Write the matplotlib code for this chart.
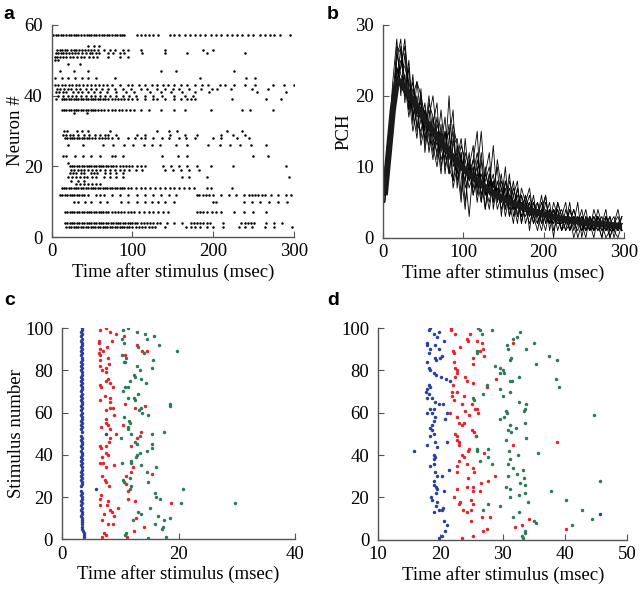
import matplotlib
matplotlib.use('Agg')
import matplotlib.pyplot as plt
import numpy as np

plt.rcParams['font.family'] = ['Liberation Serif', 'DejaVu Serif']
plt.rcParams['font.size'] = 13.5

# ---- panel a: spike raster, neuron -> spike times (msec)
raster_a = {
    57: [2, 5, 8, 11, 14, 17, 21, 24, 27, 30, 33, 36, 40, 43, 46, 49, 52, 55, 58, 62, 65, 68, 71, 74, 78, 81,
         84, 87, 90, 105, 110, 115, 120, 126, 132, 146, 152, 158, 165, 171, 178, 184, 190, 197, 204, 210, 217,
         224, 230, 236, 243, 250, 258, 264, 270, 276, 283, 295],
    54: [45, 52, 58],
    53: [7, 10, 13, 16, 19, 24, 27, 30, 34, 37, 41, 45, 48, 52, 57, 65, 72, 78, 88, 95, 110, 140, 188, 200],
    52: [5, 8, 11, 14, 18, 21, 25, 29, 33, 38, 42, 47, 50, 55, 58, 70, 76, 85, 90, 112, 140, 168, 192, 240],
    51: [4, 7, 10, 14, 18, 22, 26, 31, 36, 40, 46, 51, 56, 70, 85, 95],
    50: [4, 8],
    49: [20, 35],
    47: [10, 27, 45, 135, 154, 226],
    45: [4, 12, 20, 29, 37, 45, 55, 78, 184, 241, 252],
    43: [4, 8, 12, 16, 21, 25, 30, 34, 39, 44, 49, 54, 59, 63, 68, 74, 85, 94, 100, 108, 116, 124, 130, 138,
         144, 152, 160, 168, 178, 186, 194, 208, 215, 226, 240, 252, 274, 288, 300],
    42: [6, 10, 15, 20, 24, 30, 35, 42, 48, 55, 62, 70, 78, 88, 98, 110, 118, 130, 140, 150, 158, 170, 185,
         198, 205, 222, 248, 268],
    41: [5, 9, 14, 18, 26, 32, 38, 45, 52, 60, 68, 80, 92, 102, 122, 135, 148, 162, 178, 195, 255, 290],
    40: [8, 14, 20, 25, 30, 36, 42, 48, 54, 60, 66, 72, 80, 88, 96, 104, 115, 125, 136, 152, 165, 175],
    39: [5, 12, 15, 18, 21, 24, 27, 30, 33, 36, 39, 42, 45, 48, 51, 54, 57, 60, 63, 66, 70, 74, 78, 82, 86,
         90, 95, 100, 105, 115, 125, 130, 140, 152, 160, 168, 172, 178, 224, 265, 284],
    36: [12, 15, 18, 21, 24, 27, 30, 33, 36, 39, 42, 45, 48, 51, 54, 57, 61, 65, 70, 74, 78, 83, 87, 92, 97,
         102, 110, 120, 135, 151, 165, 197, 236, 246, 274],
    35: [28, 44],
    30: [15, 19, 31, 37, 45, 72, 130, 145, 155, 217, 236],
    29: [14, 17, 22, 26, 33, 40, 46, 54, 60, 66, 70, 80, 105, 115, 147, 165, 180, 210, 225, 240],
    28: [16, 19, 22, 25, 28, 31, 34, 37, 40, 43, 46, 50, 54, 58, 62, 66, 70, 75, 82, 95, 103, 111, 115, 125,
         136, 145, 158, 166, 178, 200, 210, 230, 244],
    26: [20, 39, 64, 76, 89, 101, 114, 124, 134, 154, 167, 194, 208, 221, 233, 247, 265],
    23: [14, 18, 29, 39, 49, 60, 74, 78, 88, 137, 156, 167, 250, 268],
    21: [20],
    20: [22, 25, 28, 31, 34, 37, 40, 43, 46, 49, 52, 55, 58, 61, 64, 67, 70, 73, 76, 80, 84, 88, 92, 96, 100,
         105, 110, 115, 138, 148, 158, 168, 180, 197, 225, 290],
    19: [24, 28, 32, 36, 40, 45, 50, 55, 60, 66, 72, 78, 84, 90, 96, 104, 112, 140, 150, 160, 170, 182],
    18: [22, 26, 30, 36, 40, 48, 52, 56, 66, 72, 80, 88],
    17: [20, 25, 30, 35, 40, 44, 50, 55, 65, 72, 80, 88, 162, 170, 193, 294],
    16: [24, 32, 40],
    15: [30, 35, 40, 45, 50, 55, 60],
    14: [12, 15, 18, 21, 24, 27, 30, 33, 36, 39, 42, 45, 48, 51, 54, 57, 60, 63, 66, 69, 72, 75, 78, 81, 84,
         87, 90, 94, 98, 104, 110, 116, 122, 128, 134, 140, 146, 152, 158, 164, 170, 176, 193, 197, 224],
    12: [10, 13, 16, 19, 22, 25, 28, 31, 34, 37, 40, 45, 55, 60, 65, 75, 85, 95, 105, 115, 125, 135, 145, 154,
         180, 183, 187, 191, 195, 200, 210, 220, 228, 238, 244, 248, 252, 256, 260, 264, 272, 280, 290, 297],
    10: [27, 33, 41, 49, 60, 68, 86, 94, 105, 115, 124, 132, 140, 152, 200, 204, 238, 248, 258, 269, 281, 292],
    7: [16, 19, 22, 25, 28, 31, 34, 37, 40, 43, 46, 49, 52, 55, 58, 61, 64, 67, 70, 74, 78, 82, 86, 90, 94,
        98, 102, 108, 114, 120, 126, 132, 138, 144, 180, 184, 188, 192, 198, 204, 210, 226, 238, 249, 265],
    4: [16, 19, 22, 25, 28, 31, 34, 37, 40, 43, 46, 49, 52, 55, 58, 61, 64, 67, 70, 73, 76, 79, 82, 85, 88,
        91, 94, 97, 100, 103, 106, 110, 114, 118, 122, 126, 130, 134, 143, 152, 162, 172, 176, 180, 184, 188,
        192, 196, 212, 235, 239, 243, 247, 251, 265, 275, 285],
    3: [18, 21, 24, 27, 30, 33, 36, 39, 42, 45, 48, 51, 54, 57, 60, 63, 66, 69, 72, 75, 78, 81, 84, 87, 90,
        93, 96, 100, 104, 108, 112, 116, 120, 124, 128, 140, 166, 172, 178, 184, 192, 200, 212, 232, 240, 248,
        264, 276, 298],
}

# ---- panel b: PCH, 5 msec bins
bin_centres = np.arange(2.5, 300, 5)
pch_mean = [6, 12, 18, 22, 22, 21, 20.2, 19.4, 18.5, 17.5, 16.6, 15.8, 15, 14.2, 13.4, 12.7, 12, 11.3, 10.7,
            10.1, 9.5, 9, 8.5, 8, 7.6, 7.1, 6.7, 6.3, 6, 5.7, 5.4, 5.1, 4.8, 4.6, 4.3, 4.1, 3.9, 3.7, 3.5, 3.4,
            3.2, 3.1, 2.9, 2.8, 2.7, 2.6, 2.5, 2.4, 2.3, 2.2, 2.1, 2.05, 2.0, 1.95, 1.9, 1.85, 1.8, 1.75, 1.7, 1.65]
pch_trials = [
    [5, 14, 22, 28, 20, 26, 18, 23, 15, 21, 13, 19, 17, 11, 16, 9, 14, 18, 7, 12, 5, 10, 13, 6, 11, 4, 9, 7, 10, 3,
     8, 5, 2, 7, 4, 6, 1, 5, 3, 6, 2, 4, 0, 5, 3, 1, 4, 2, 5, 0, 3, 1, 4, 2, 0, 3, 1, 2, 4, 1],
    [7, 10, 17, 25, 28, 19, 24, 16, 22, 20, 12, 17, 20, 14, 9, 15, 11, 16, 13, 6, 14, 8, 11, 15, 5, 9, 12, 4, 8, 5,
     10, 3, 6, 8, 2, 5, 7, 3, 1, 4, 6, 2, 5, 3, 1, 4, 2, 3, 0, 2, 4, 1, 3, 2, 0, 3, 2, 1, 2, 3],
    [6, 13, 19, 21, 27, 22, 17, 21, 19, 14, 18, 12, 16, 19, 10, 13, 15, 8, 11, 14, 9, 3, 10, 7, 12, 6, 9, 5, 11, 7,
     4, 8, 6, 3, 7, 5, 3, 6, 2, 4, 3, 5, 1, 3, 4, 2, 5, 1, 3, 2, 0, 3, 1, 4, 2, 1, 3, 0, 2, 2],
    [8, 15, 16, 23, 24, 28, 21, 18, 14, 20, 17, 15, 11, 16, 14, 11, 20, 10, 12, 9, 4, 11, 8, 10, 6, 9, 7, 13, 5, 8,
     6, 4, 7, 5, 3, 6, 4, 2, 5, 3, 6, 1, 4, 2, 3, 5, 1, 3, 2, 4, 1, 2, 3, 1, 2, 4, 0, 2, 3, 1],
    [5, 11, 20, 24, 22, 20, 25, 17, 20, 16, 19, 14, 13, 17, 12, 15, 9, 14, 10, 5, 12, 10, 6, 9, 15, 7, 5, 8, 6, 9,
     4, 7, 5, 2, 6, 4, 5, 3, 4, 2, 5, 3, 2, 4, 1, 3, 2, 4, 2, 1, 3, 2, 1, 3, 1, 2, 3, 1, 0, 2],
    [7, 12, 18, 26, 23, 21, 19, 22, 17, 18, 15, 20, 14, 12, 15, 10, 13, 11, 9, 12, 7, 9, 11, 8, 5, 10, 6, 8, 4, 6,
     5, 9, 3, 5, 6, 2, 4, 5, 3, 1, 4, 3, 2, 5, 3, 1, 2, 4, 2, 3, 1, 2, 0, 3, 2, 1, 2, 3, 1, 2],
    [6, 14, 21, 22, 25, 24, 22, 19, 16, 15, 18, 16, 12, 15, 13, 17, 10, 8, 13, 11, 10, 7, 9, 12, 8, 6, 7, 9, 5, 7,
     3, 6, 4, 7, 4, 3, 5, 2, 4, 3, 1, 4, 3, 2, 2, 3, 1, 2, 3, 1, 2, 3, 1, 2, 1, 2, 0, 2, 1, 3],
    [5, 13, 17, 24, 21, 23, 18, 20, 22, 17, 14, 16, 15, 13, 18, 12, 9, 13, 14, 10, 8, 12, 6, 9, 7, 8, 10, 5, 7, 4,
     6, 5, 8, 3, 5, 4, 2, 4, 3, 5, 2, 3, 4, 1, 3, 2, 3, 0, 2, 3, 2, 1, 2, 2, 3, 1, 2, 1, 2, 1],
    [8, 12, 19, 27, 26, 20, 21, 17, 19, 13, 16, 18, 13, 10, 14, 12, 16, 7, 10, 13, 11, 8, 10, 5, 9, 7, 4, 8, 6, 5,
     7, 3, 5, 6, 2, 5, 3, 4, 5, 2, 3, 2, 4, 3, 1, 2, 4, 2, 1, 3, 2, 2, 1, 3, 2, 0, 1, 2, 1, 2],
    [6, 11, 18, 22, 24, 27, 20, 15, 18, 19, 15, 13, 17, 14, 11, 13, 12, 15, 8, 11, 9, 10, 7, 11, 8, 4, 8, 6, 7, 5,
     8, 6, 4, 5, 3, 4, 6, 3, 2, 4, 3, 2, 3, 4, 2, 3, 1, 3, 2, 2, 1, 3, 2, 1, 2, 3, 1, 1, 2, 1],
]

# ---- panel c: first (blue), second (red), third (green) spike per stimulus
stim_c = list(range(1, 101))
blue_c = [3.8, 3.7, 3.7, 3.6, 3.5, 3.5, 3.4, 3.5, 3.4, 3.4, 3.3, 3.4, 3.4, 3.3, 3.4, 3.3, 3.4, 3.3, 3.4, 3.4,
          3.3, 3.4, 3.3, 5.9, 3.3, 3.4, 3.4, 3.3, 3.4, 3.3, 3.4, 3.3, 3.4, 3.4, 3.3, 3.4, 3.3, 3.4, 3.3, 3.4,
          3.4, 3.3, 3.4, 3.3, 3.4, 3.4, 3.3, 3.4, 3.3, 7.6, 3.4, 3.3, 3.4, 3.3, 3.4, 3.3, 3.4, 3.4, 3.3, 3.4,
          3.3, 3.4, 3.3, 3.4, 3.4, 3.3, 3.4, 3.3, 3.4, 3.3, 3.4, 3.4, 3.3, 3.4, 3.3, 3.4, 3.3, 3.4, 3.4, 3.3,
          3.4, 3.3, 3.4, 3.3, 3.4, 3.4, 3.3, 3.4, 3.3, 3.4, 3.3, 3.4, 3.4, 3.3, 3.4, 3.3, 3.4, 3.3, 3.4, 3.4]
red_c_t = [6.5, 7.5, 8.3, 9.2, 6.3, 6.3, 8.6, 10.6, 12.8, 6.5, 7.7, 13.7, 6.4, 6.5, 7.0, 6.5, 7.9, 10.8, 6.5, 8.1,
           7.6, 6.9, 7.5, 7.8, 7.5, 6.5, 8.3, 6.7, 8.8, 7.4, 8.3, 8.3, 10.8, 6.5, 8.3, 12.5, 7.5, 8.8, 9.0, 7.6,
           7.5, 7.8, 6.7, 8.3, 10.5, 9.2, 13.6, 8.3, 8.1, 7.6, 6.5, 6.7, 12.8, 11.9, 7.5, 7.8, 6.9, 7.0, 6.5, 9.0,
           7.6, 12.2, 11.9, 15.4, 6.8, 7.3, 7.5, 10.9, 11.0, 8.1, 11.3, 6.7, 6.5, 7.9, 11.3, 12.5, 18.7, 6.5, 7.7,
           9.6, 8.2, 8.5, 7.2, 9.0, 12.7, 8.7, 6.8, 14.0, 12.4, 7.2, 7.6, 6.9, 11.2, 7.8, 14.3, 14.5]
red_c_n = [99, 100, 98, 97, 94, 93, 94, 96, 92, 90, 91, 89, 88, 87, 89, 85, 86, 87, 82, 83,
           81, 80, 79, 76, 75, 73, 74, 72, 72, 68, 67, 65, 64, 66, 62, 62, 61, 62, 59, 57,
           55, 54, 53, 52, 54, 50, 51, 48, 46, 44, 44, 43, 48, 44, 41, 40, 39, 36, 36, 35,
           34, 34, 32, 31, 30, 28, 27, 30, 26, 25, 23, 21, 19, 18, 19, 18, 17, 16, 16,
           15, 14, 13, 12, 11, 10, 7, 9, 6, 4, 3, 2, 1, 1, 7, 63, 89]
green_c_t = [10.5, 11.4, 12.8, 14.2, 15.8, 14.5, 10.3, 10.6, 13.0, 16.7, 19.8, 14.0, 10.3, 10.9, 15.6, 10.8, 10.6,
             12.8, 15.4, 13.4, 12.3, 12.5, 13.6, 11.6, 14.4, 10.8, 11.4, 10.5, 13.1, 12.3, 11.4, 12.5, 18.5, 18.5,
             13.6, 13.2, 13.8, 14.8, 10.7, 11.5, 11.7, 11.4, 11.3, 17.5, 15.5, 13.3, 11.9, 10.2, 12.5, 12.8, 15.4,
             15.4, 13.3, 12.9, 12.7, 14.5, 11.8, 11.9, 10.3, 13.5, 16.2, 14.5, 11.6, 10.5, 10.6, 14.8, 11.9, 11.6,
             20.8, 15.9, 16.2, 16.8, 20.4, 29.7, 15.1, 13.1, 13.6, 16.5, 18.5, 12.1, 17.5, 15.9, 17.4, 17.1, 10.9,
             10.8, 17.8, 14.7]
green_c_n = [99, 100, 98, 97, 96, 95, 95, 93, 91, 92, 89, 88, 87, 86, 85, 84, 84,
             82, 81, 80, 78, 77, 76, 75, 74, 72, 72, 70, 69, 67, 67, 66, 64, 63,
             62, 61, 60, 59, 58, 56, 55, 53, 52, 51, 50, 49, 50, 48, 46, 45, 45,
             43, 41, 40, 39, 42, 37, 36, 36, 35, 34, 32, 29, 28, 27, 27, 25, 24,
             24, 22, 20, 19, 17, 17, 15, 13, 12, 11, 10, 9, 9, 7, 6, 5, 3,
             2, 1, 0.5]

# ---- panel d
blue_d_t = [18.1, 18.3, 19.0, 19.7, 19.4, 20.5, 17.8, 17.9, 19.1, 19.8, 18.1, 18.3, 19.1, 19.3, 20.2, 20.0, 17.9,
            18.1, 18.3, 18.9, 19.3, 20.1, 20.9, 21.5, 18.2, 17.8, 18.3, 17.7, 18.1, 18.6, 17.8, 19.1, 19.8, 20.4,
            18.3, 19.0, 17.8, 18.6, 21.0, 20.7, 19.1, 18.9, 18.6, 18.3, 18.6, 18.9, 18.3, 17.9, 19.1, 19.4, 21.0,
            15.8, 18.9, 19.1, 19.0, 18.9, 18.3, 21.3, 19.1, 19.5, 20.2, 18.9, 19.0, 19.2, 19.4, 20.6, 19.2, 18.4,
            18.7, 19.4, 19.2, 20.4, 20.2, 19.0, 19.7, 20.5, 21.0, 20.7, 20.2, 19.8, 45.7]
blue_d_n = [99, 100, 97, 98, 96, 94, 93, 92, 92, 90, 88, 90, 86, 85, 87, 86, 84,
            81, 80, 79, 78, 77, 76, 75, 73, 71, 72, 70, 69, 67, 67, 65, 64, 64,
            62, 62, 60, 60, 60, 57, 58, 56, 54, 53, 52, 50, 49, 45, 46, 44, 46,
            42, 40, 39, 38, 36, 35, 33, 32, 30, 30, 28, 26, 25, 24, 23, 22, 20,
            19, 18, 16, 15, 14, 13, 14, 9, 7, 4, 2, 1, 12]
red_d_t = [21.7, 21.7, 22.3, 24.2, 24.5, 24.8, 25.8, 26.6, 31.6, 23.2, 22.0, 22.1, 26.8, 26.4, 27.0, 25.3, 25.2,
           22.1, 22.4, 22.6, 22.7, 22.4, 29.0, 24.0, 24.2, 25.3, 22.0, 27.5, 21.9, 22.6, 23.8, 21.9, 22.1, 23.4,
           25.0, 25.5, 24.0, 21.5, 24.6, 25.8, 26.1, 22.6, 22.9, 23.7, 23.4, 25.0, 25.4, 25.7, 22.4, 22.6, 22.7,
           23.0, 22.9, 31.7, 38.7, 24.6, 24.5, 27.0, 23.4, 23.8, 22.9, 24.2, 22.6, 22.6, 25.3, 25.4, 28.8, 24.5,
           27.7, 26.5, 24.2, 22.6, 25.3, 25.2, 26.3, 22.1, 23.2, 24.9, 25.2, 22.9, 23.6, 24.2, 24.9, 28.0, 26.6,
           24.9, 26.9, 27.5, 32.0, 33.1, 34.2, 40.1, 25.2, 23.4]
red_d_n = [100, 99, 97, 95, 94, 97, 94, 93, 93, 91, 89, 88, 90, 89, 87, 86, 83,
           84, 81, 80, 79, 77, 76, 77, 75, 74, 73, 72, 70, 70, 68, 68, 66, 64,
           64, 62, 61, 60, 59, 62, 60, 58, 55, 55, 54, 52, 51, 49, 50, 49, 47,
           46, 45, 45, 46, 43, 42, 41, 40, 39, 37, 36, 35, 32, 34, 32, 30, 29,
           28, 27, 25, 24, 25, 23, 23, 20, 18, 19, 17, 17, 14, 13, 14, 11, 11,
           9, 4, 5, 6, 7, 10, 5, 2, 1]
green_d_t = [26.1, 26.4, 28.3, 26.6, 32.8, 32.3, 31.7, 35.0, 30.7, 33.7, 30.8, 25.8, 37.4, 25.8, 31.3, 31.2, 38.8,
             35.3, 28.8, 29.6, 30.0, 30.2, 29.6, 32.6, 31.2, 31.5, 38.5, 27.5, 39.0, 29.5, 31.2, 26.9, 30.0, 25.2,
             25.4, 32.6, 33.6, 33.8, 33.4, 30.5, 30.7, 29.6, 30.2, 44.7, 33.6, 31.2, 30.9, 31.3, 32.2, 25.7, 30.5,
             33.7, 25.8, 27.6, 25.8, 31.0, 32.5, 35.6, 27.7, 26.4, 28.3, 31.2, 30.9, 31.7, 32.3, 33.3, 30.9, 33.4,
             32.7, 33.5, 30.6, 31.2, 33.6, 37.7, 45.6, 31.2, 32.6, 34.1, 40.1, 27.7, 29.5, 26.9, 32.6, 31.7, 42.8,
             44.3, 35.0, 35.3, 41.1, 33.5, 33.5, 33.1, 33.2]
green_d_n = [100, 99, 99, 97, 98, 96, 95, 93, 92, 90, 90, 89, 87, 88, 86, 85, 85,
             83, 82, 81, 80, 79, 79, 77, 75, 75, 76, 73, 72, 71, 70, 69, 68, 67,
             66, 65, 62, 64, 61, 61, 60, 57, 58, 59, 55, 54, 52, 51, 53, 49, 47,
             48, 43, 43, 42, 42, 40, 41, 39, 37, 36, 38, 36, 34, 31, 33, 30, 29,
             27, 26, 25, 24, 22, 23, 28, 20, 21, 18, 19, 17, 16, 14, 13, 11, 14,
             10, 9, 8, 7, 4, 3, 2, 1]

col_blue = '#2b3f9c'
col_red = '#e3242b'
col_green = '#2e7a57'
axis_grey = '#555555'


def style(ax):
    for side in ('top', 'right'):
        ax.spines[side].set_visible(False)
    for side in ('left', 'bottom'):
        ax.spines[side].set_color(axis_grey)
        ax.spines[side].set_linewidth(1.0)
    ax.tick_params(direction='in', length=4, width=0.8, color=axis_grey, labelsize=13.5)
    ax.tick_params(axis='x', pad=4.5)
    ax.tick_params(axis='y', pad=6.5)


fig = plt.figure(figsize=(6.4, 5.9), dpi=100)

# a
ax = fig.add_axes([0.081, 0.598, 0.378, 0.36])
for neuron, times in raster_a.items():
    ax.plot(times, [neuron] * len(times), 'o', color='black', markersize=1.8, markeredgewidth=0)
ax.set_xlim(0, 300)
ax.set_ylim(0, 60)
ax.set_xticks([0, 100, 200, 300])
ax.set_yticks([0, 20, 40, 60])
ax.set_xlabel('Time after stimulus (msec)', labelpad=2)
ax.set_ylabel('Neuron #', labelpad=0)
style(ax)

# b
ax = fig.add_axes([0.598, 0.597, 0.377, 0.361])
for trace in pch_trials:
    ax.plot(bin_centres, trace, color='black', lw=0.6)
ax.plot(bin_centres, pch_mean, color='#1a1a1a', lw=4.5, solid_capstyle='butt')
ax.set_xlim(0, 300)
ax.set_ylim(0, 30)
ax.set_xticks([0, 100, 200, 300])
ax.set_yticks([0, 10, 20, 30])
ax.set_xlabel('Time after stimulus (msec)', labelpad=2)
ax.set_ylabel('PCH', labelpad=2)
style(ax)

# c
ax = fig.add_axes([0.097, 0.086, 0.364, 0.358])
ax.plot(blue_c, stim_c, 'o', color=col_blue, markersize=2.5, markeredgewidth=0)
ax.plot(red_c_t, red_c_n, 'o', color=col_red, markersize=2.5, markeredgewidth=0)
ax.plot(green_c_t, green_c_n, 'o', color=col_green, markersize=2.5, markeredgewidth=0)
ax.set_xlim(0, 40)
ax.set_ylim(0, 100)
ax.set_xticks([0, 20, 40])
ax.set_yticks([0, 20, 40, 60, 80, 100])
ax.set_xlabel('Time after stimulus (msec)', labelpad=2)
ax.set_ylabel('Stimulus number', labelpad=0)
style(ax)

# d
ax = fig.add_axes([0.591, 0.085, 0.389, 0.359])
ax.plot(blue_d_t, blue_d_n, 'o', color=col_blue, markersize=2.5, markeredgewidth=0)
ax.plot(red_d_t, red_d_n, 'o', color=col_red, markersize=2.5, markeredgewidth=0)
ax.plot(green_d_t, green_d_n, 'o', color=col_green, markersize=2.5, markeredgewidth=0)
ax.set_xlim(10, 50)
ax.set_ylim(0, 100)
ax.set_xticks([10, 20, 30, 40, 50])
ax.set_yticks([0, 20, 40, 60, 80, 100])
ax.set_xlabel('Time after stimulus (msec)', labelpad=2)
style(ax)

# panel letters
for letter, (x, y) in zip('abcd', [(0.006, 0.975), (0.511, 0.975), (0.006, 0.49), (0.511, 0.49)]):
    fig.text(x, y, letter, family='Liberation Sans', fontweight='bold', fontsize=14, va='center')

fig.savefig('out.png', dpi=100)
